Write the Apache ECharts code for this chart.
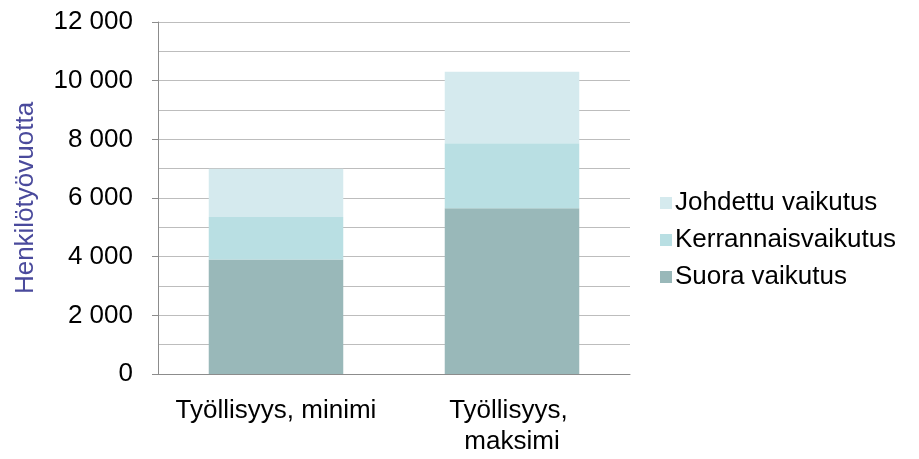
<!DOCTYPE html>
<html><head><meta charset="utf-8">
<script src="https://cdn.jsdelivr.net/npm/echarts@6/dist/echarts.min.js"></script>
<style>html,body{margin:0;padding:0;background:#fff}#c{width:919px;height:459px}</style>
</head><body><div id="c"></div>
<script>
const categories = ['Työllisyys, minimi', 'Työllisyys, maksimi'];
const suora = [3900, 5650];
const kerrannais = [1450, 2220];
const johdettu = [1650, 2430];
const seriesNames = ['Suora vaikutus', 'Kerrannaisvaikutus', 'Johdettu vaikutus'];
const yTicks = [0, 2000, 4000, 6000, 8000, 10000, 12000];

const chart = echarts.init(document.getElementById('c'));
const font = 'Liberation Sans, Arial, sans-serif';
const colors = ['#99b8b9', '#b9dfe3', '#d5eaee'];
const dataSets = [suora, kerrannais, johdettu];
chart.setOption({
  animation: false,
  textStyle: { fontFamily: font },
  grid: { left: 158, right: 289, top: 22, bottom: 85 },
  legend: {
    orient: 'vertical', left: 655, top: 185,
    itemWidth: 12, itemHeight: 12, itemGap: 11, icon: 'rect',
    data: [seriesNames[2], seriesNames[1], seriesNames[0]],
    textStyle: { fontSize: 26, color: '#000', fontFamily: font, padding: [0, 0, 0, -2] }
  },
  xAxis: {
    type: 'category', data: categories,
    axisLine: { lineStyle: { color: '#8c8c8c', width: 1 } },
    axisTick: { show: false },
    axisLabel: { color: '#000', fontSize: 26, margin: 21, lineHeight: 31, width: 215, overflow: 'break', interval: 0 }
  },
  yAxis: {
    type: 'value', min: 0, max: 12000, interval: 2000,
    name: 'Henkilötyövuotta', nameLocation: 'middle', nameGap: 119,
    nameTextStyle: { color: '#4a4a9c', fontSize: 26, fontFamily: font },
    axisLine: { show: true, lineStyle: { color: '#8c8c8c' } },
    axisTick: { show: true, length: 6, lineStyle: { color: '#8c8c8c' } },
    axisLabel: { color: '#000', fontSize: 26, margin: 25,
      formatter: v => yTicks.includes(v) ? String(v).replace(/\B(?=(\d{3})+(?!\d))/g, ' ') : '' },
    splitLine: { lineStyle: { color: '#bdbdbd' } },
    minorTick: { show: false, splitNumber: 2 },
    minorSplitLine: { show: true, lineStyle: { color: '#bdbdbd' } }
  },
  series: seriesNames.map((n, i) => ({
    name: n, type: 'bar', stack: 'a', data: dataSets[i], barWidth: '57%',
    itemStyle: { color: colors[i] }
  }))
});
</script></body></html>
